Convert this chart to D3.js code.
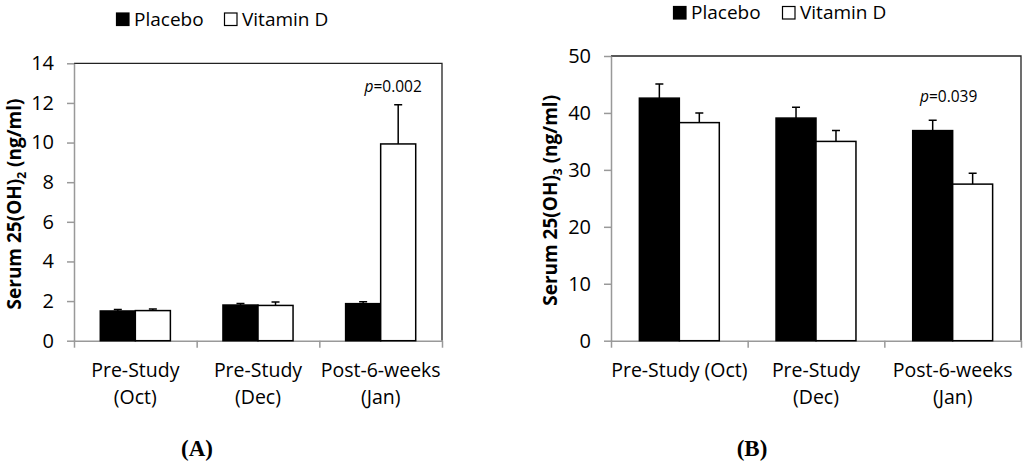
<!DOCTYPE html>
<html>
<head>
<meta charset="utf-8">
<script src="https://cdn.jsdelivr.net/npm/d3@7"></script>
<style>
  body { margin: 0; background: #fff; }
  svg { display: block; font-family: "Open Sans", Lato, sans-serif; }
  .axis .domain, .axis line { stroke: #999; stroke-width: 1.5px; }
  .axis text { fill: #000; font-size: 20px; font-family: "Open Sans", sans-serif; }
</style>
</head>
<body>
<svg id="chart" width="1024" height="468"></svg>
<script>
// ---- data ----
const series = ["Placebo", "Vitamin D"];

// panel A : serum 25(OH)D2
const categoriesA = [["Pre-Study", "(Oct)"], ["Pre-Study", "(Dec)"], ["Post-6-weeks", "(Jan)"]];
const placeboA = [1.50, 1.80, 1.87];
const placeboErrA = [0.07, 0.08, 0.09];
const vitaminA = [1.52, 1.78, 9.93];
const vitaminErrA = [0.08, 0.17, 1.98];
const ticksA = [0, 2, 4, 6, 8, 10, 12, 14];

// panel B : serum 25(OH)D3
const categoriesB = [["Pre-Study (Oct)"], ["Pre-Study", "(Dec)"], ["Post-6-weeks", "(Jan)"]];
const placeboB = [42.6, 39.1, 36.9];
const placeboErrB = [2.5, 1.9, 1.8];
const vitaminB = [38.3, 35.0, 27.5];
const vitaminErrB = [1.7, 1.9, 1.9];
const ticksB = [0, 10, 20, 30, 40, 50];

const svg = d3.select("#chart");

function drawPanel(opt) {
  const g = svg.append("g");
  const { left, right, top, bottom } = opt;
  const cats = opt.categories.map((d, i) => i);

  const y = d3.scaleLinear().domain([0, d3.max(opt.ticks)]).range([bottom, top]);
  const x0 = d3.scaleBand().domain(cats).range([left, right]).padding(0);
  const x1 = d3.scaleBand().domain(series).range([0, x0.bandwidth()])
    .paddingInner(0).paddingOuter(opt.outerPad);
  const xEdge = d3.scaleLinear().domain([0, cats.length]).range([left, right]);

  // frame on top and right
  g.append("path")
    .attr("d", `M${left},${top}H${right}V${bottom}`)
    .attr("fill", "none")
    .attr("stroke", "#222")
    .attr("stroke-width", 1.3);

  // y axis
  g.append("g")
    .attr("class", "axis")
    .attr("transform", `translate(${left},0)`)
    .call(d3.axisLeft(y).tickValues(opt.ticks).tickSize(7).tickSizeOuter(0).tickPadding(13));

  // x axis, ticks on category boundaries
  g.append("g")
    .attr("class", "axis")
    .attr("transform", `translate(0,${bottom})`)
    .call(d3.axisBottom(xEdge).tickValues(d3.range(cats.length + 1)).tickSize(7)
      .tickSizeOuter(0).tickFormat(""));

  // category labels
  const lab = g.append("g").selectAll("text")
    .data(opt.categories)
    .join("text")
    .attr("text-anchor", "middle")
    .attr("font-size", 19.5)
    .attr("x", (d, i) => x0(i) + x0.bandwidth() / 2)
    .attr("y", bottom + 36);
  lab.selectAll("tspan")
    .data((d) => d)
    .join("tspan")
    .attr("x", function () { return this.parentNode.getAttribute("x"); })
    .attr("dy", (d, i) => (i === 0 ? 0 : 27))
    .text((d) => d);

  // bars
  const rows = cats.map((i) => [
    { s: series[0], v: opt.placebo[i], e: opt.placeboErr[i], i },
    { s: series[1], v: opt.vitamin[i], e: opt.vitaminErr[i], i },
  ]);
  const grp = g.append("g").selectAll("g")
    .data(rows)
    .join("g")
    .attr("transform", (d, i) => `translate(${x0(i)},0)`);

  // error bars (upper only)
  grp.selectAll("path.err")
    .data((d) => d)
    .join("path")
    .attr("class", "err")
    .attr("d", (d) => {
      const cx = x1(d.s) + x1.bandwidth() / 2;
      return `M${cx},${y(d.v)}V${y(d.v + d.e)}M${cx - 4},${y(d.v + d.e)}H${cx + 4}`;
    })
    .attr("fill", "none")
    .attr("stroke", "#000")
    .attr("stroke-width", 1.5);

  grp.selectAll("rect")
    .data((d) => d)
    .join("rect")
    .attr("x", (d) => x1(d.s))
    .attr("y", (d) => y(d.v))
    .attr("width", x1.bandwidth())
    .attr("height", (d) => y(0) - y(d.v))
    .attr("fill", (d) => (d.s === series[0] ? "#000" : "#fff"))
    .attr("stroke", "#000")
    .attr("stroke-width", 1.5);

  // significance note
  const pt = g.append("text")
    .attr("text-anchor", "middle")
    .attr("font-size", 15.5)
    .attr("x", x0(opt.pIndex) + x0.bandwidth() / 2 + opt.pDx)
    .attr("y", opt.pY);
  pt.append("tspan").attr("font-style", "italic").text("p");
  pt.append("tspan").text("=" + opt.pValue);

  // y label
  const yl = g.append("text")
    .attr("transform", `translate(${opt.ylX},${(top + bottom) / 2 + 2}) rotate(-90)`)
    .attr("text-anchor", "middle")
    .attr("font-size", 19)
    .attr("font-weight", "bold");
  yl.append("tspan").text("Serum 25(OH)");
  yl.append("tspan").attr("font-size", 12).attr("dy", 5).text(opt.sub);
  yl.append("tspan").attr("dy", -5).text(" (ng/ml)");

  // legend
  const lg = g.append("g").attr("transform", `translate(${opt.legX},${opt.legY})`);
  const items = [
    { s: series[0], dx: 0 },
    { s: series[1], dx: opt.legGap },
  ];
  items.forEach((it, k) => {
    lg.append("rect")
      .attr("x", it.dx + 0.5)
      .attr("y", -12.5)
      .attr("width", 12.5)
      .attr("height", 12.5)
      .attr("fill", k === 0 ? "#000" : "#fff")
      .attr("stroke", "#000")
      .attr("stroke-width", 1.2);
    lg.append("text")
      .attr("x", it.dx + 18)
      .attr("y", 0)
      .attr("font-size", 19)
      .text(it.s);
  });

  // panel letter
  svg.append("text")
    .attr("x", (left + right) / 2 + opt.letterDx)
    .attr("y", 456)
    .attr("text-anchor", "middle")
    .attr("font-family", "'Liberation Serif', 'Times New Roman', serif")
    .attr("font-size", 23)
    .attr("font-weight", "bold")
    .text(opt.letter);
}

drawPanel({
  left: 74, right: 442, top: 63.3, bottom: 340.7,
  categories: categoriesA, ticks: ticksA,
  placebo: placeboA, placeboErr: placeboErrA, vitamin: vitaminA, vitaminErr: vitaminErrA,
  outerPad: 0.75, pIndex: 2, pDx: 12.5, pY: 92, pValue: "0.002",
  sub: "2", ylX: 21, legX: 116, legY: 25.5, legGap: 108, letter: "(A)", letterDx: -61,
});

drawPanel({
  left: 611, right: 1021, top: 56, bottom: 340.7,
  categories: categoriesB, ticks: ticksB,
  placebo: placeboB, placeboErr: placeboErrB, vitamin: vitaminB, vitaminErr: vitaminErrB,
  outerPad: 0.71, pIndex: 2, pDx: -4, pY: 102, pValue: "0.039",
  sub: "3", ylX: 557, legX: 673, legY: 19, legGap: 109, letter: "(B)", letterDx: -64,
});
</script>
</body>
</html>
